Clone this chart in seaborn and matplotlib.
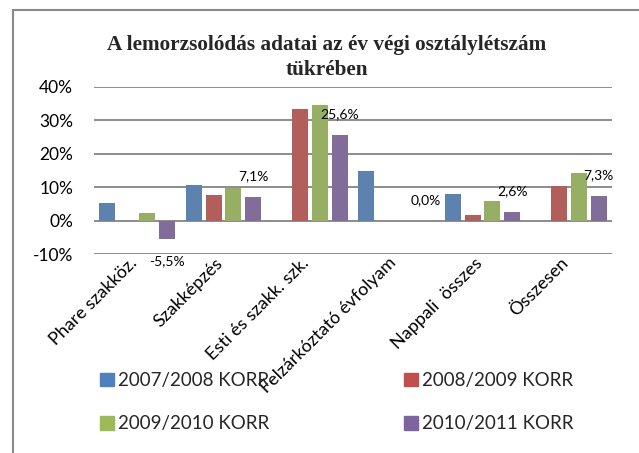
import matplotlib
matplotlib.use("Agg")
import matplotlib.pyplot as plt
import matplotlib.transforms as mtransforms
from matplotlib.lines import Line2D
from matplotlib.ticker import FuncFormatter
import numpy as np
import pandas as pd
import seaborn as sns

categories = ["Phare szakköz.", "Szakképzés", "Esti és szakk. szk.",
              "Felzárkóztató évfolyam", "Nappali  összes", "Összesen"]
series = ["2007/2008 KORR", "2008/2009 KORR", "2009/2010 KORR", "2010/2011 KORR"]
colors = ["#4F81BD", "#C0504D", "#9BBB59", "#8064A2"]

v_2007 = [5.4, 10.6, np.nan, 14.8, 7.9, np.nan]
v_2008 = [np.nan, 7.6, 33.2, np.nan, 1.6, 10.4]
v_2009 = [2.2, 9.8, 34.4, np.nan, 5.8, 14.2]
v_2010 = [-5.5, 7.1, 25.6, 0.0, 2.6, 7.3]

rows = []
for s, vals in zip(series, [v_2007, v_2008, v_2009, v_2010]):
    for c, v in zip(categories, vals):
        rows.append({"kategoria": c, "sorozat": s, "ertek": v})
df = pd.DataFrame(rows)

sns.set_theme(style="white")
plt.rcParams["font.family"] = ["Lato", "DejaVu Sans"]

fig = plt.figure(figsize=(6.39, 4.53), dpi=100)
ax = fig.add_axes([94 / 639, 1 - 254.3 / 453, (612 - 94) / 639, (254.3 - 86.7) / 453])

sns.barplot(data=df, x="kategoria", y="ertek", hue="sorozat",
            order=categories, hue_order=series, palette=colors,
            width=0.92, gap=0.2, errorbar=None, linewidth=0, ax=ax)

ax.set_ylim(-10, 40)
ax.set_yticks([-10, 0, 10, 20, 30, 40])
ax.yaxis.set_major_formatter(FuncFormatter(lambda v, p: f"{v:.0f}%"))
ax.set_xlabel("")
ax.set_ylabel("")
for sp in ax.spines.values():
    sp.set_visible(False)
ax.yaxis.grid(True, color="#8c8c8c", linewidth=1.4)
ax.set_axisbelow(True)
ax.tick_params(axis="y", length=0, pad=15, labelsize=12.5, labelcolor="#000000")
ax.tick_params(axis="x", length=0, pad=0, labelsize=13, labelcolor="#000000")

ax.set_xticks(range(len(categories)))
ax.set_xticklabels(categories, rotation=45, ha="right", va="center",
                   rotation_mode="anchor")
shift = mtransforms.ScaledTranslation(-3 / 100, -6 / 100, fig.dpi_scale_trans)
for lab in ax.get_xticklabels():
    lab.set_transform(lab.get_transform() + shift)

# data labels on the 2010/2011 series
for bar, v in zip(ax.containers[3], v_2010):
    x = bar.get_x() + bar.get_width() / 2
    txt = f"{v:.1f}".replace(".", ",") + "%"
    off = 15 if v >= 0 else -16
    ax.annotate(txt, (x, v), xytext=(0, off), textcoords="offset points",
                ha="center", va="center", fontsize=10, color="#000000")

ax.get_legend().remove()
handles = [plt.Rectangle((0, 0), 1, 1, color=c) for c in colors]
order = [0, 2, 1, 3]
fig.legend([handles[i] for i in order], [series[i] for i in order],
           ncol=2, loc="upper left", bbox_to_anchor=(100 / 639, 1 - 372 / 453),
           frameon=False, fontsize=13.5, borderpad=0, borderaxespad=0,
           handlelength=0.75, handleheight=0.75, handletextpad=0.2,
           labelspacing=1.4, columnspacing=7.2)

fig.text(327 / 639, 1 - 50 / 453, "A lemorzsolódás adatai az év végi osztálylétszám",
         ha="center", va="baseline", fontsize=15.3, fontweight="bold",
         family=["Liberation Serif"])
fig.text(327 / 639, 1 - 75 / 453, "tükrében",
         ha="center", va="baseline", fontsize=15.3, fontweight="bold",
         family=["Liberation Serif"])

fig.add_artist(Line2D([13 / 639, 13 / 639], [0, 1 - 10 / 453],
                      transform=fig.transFigure, color="#8a8a8a", lw=1.5))
fig.add_artist(Line2D([13 / 639, 1], [1 - 10 / 453, 1 - 10 / 453],
                      transform=fig.transFigure, color="#8a8a8a", lw=1.5))

plt.savefig("out.png", dpi=100)
